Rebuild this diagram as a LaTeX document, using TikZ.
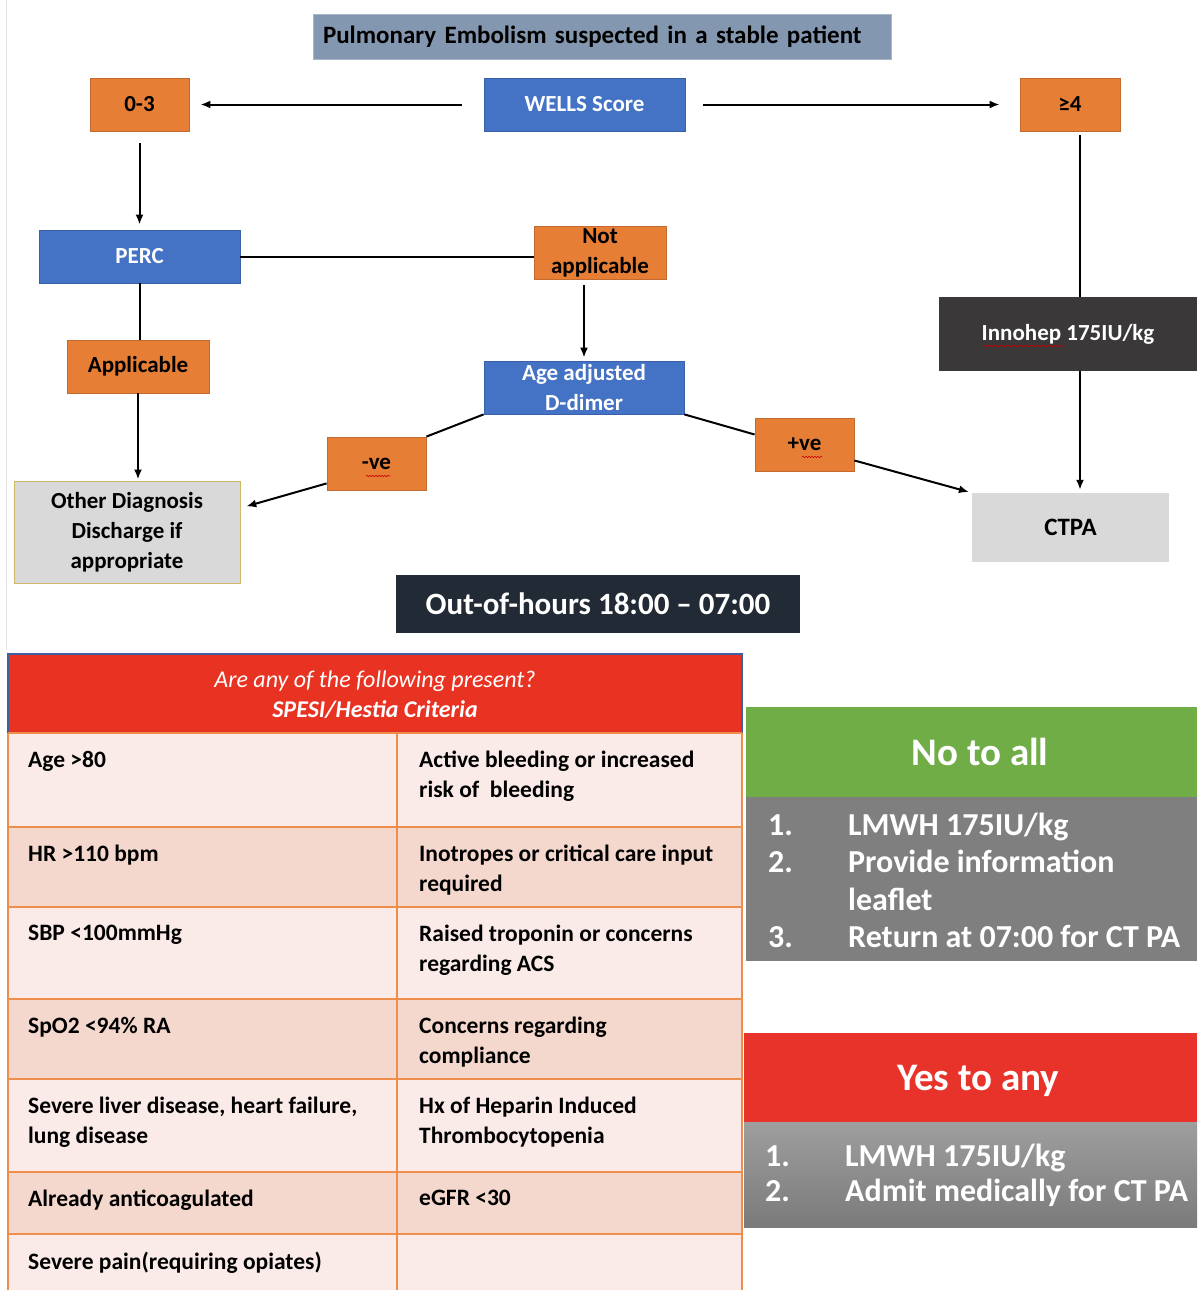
\documentclass[tikz,border=0pt]{standalone}
\usepackage{fontspec}
\setmainfont{Carlito}
\usetikzlibrary{arrows.meta,decorations.pathmorphing}
\definecolor{TitleBlue}{HTML}{8497B0}
\definecolor{BoxBlue}{HTML}{4472C4}
\definecolor{BoxOrange}{HTML}{E67E36}
\definecolor{BoxGrey}{HTML}{D9D9D9}
\definecolor{BoxGold}{HTML}{CDB86A}
\definecolor{DarkBox}{HTML}{3A3838}
\definecolor{NavyBox}{HTML}{222A35}
\definecolor{HeadRed}{HTML}{E83323}
\definecolor{HeadBorder}{HTML}{3F5FA0}
\definecolor{GridOrange}{HTML}{EE8E4A}
\definecolor{CellLight}{HTML}{FAEBE8}
\definecolor{CellDark}{HTML}{F4D8CD}
\definecolor{PanelGreen}{HTML}{70AD47}
\definecolor{PanelGrey}{HTML}{7F7F7F}
\definecolor{PanelRed}{HTML}{E8332A}

\tikzset{
  boxfont/.style={font=\bfseries\fontsize{23}{30}\selectfont},
  orangebox/.style={boxfont, fill=BoxOrange, draw=BoxOrange!85!black, line width=0.8pt, text=black, align=center, inner sep=0pt},
  bluebox/.style={boxfont, fill=BoxBlue, draw=BoxBlue!85!black, line width=0.8pt, text=white, align=center, inner sep=0pt},
  greybox/.style={boxfont, fill=BoxGrey, text=black, align=center, inner sep=0pt},
  link/.style={line width=2pt, black},
  arrow/.style={link, ->},
  grid/.style={GridOrange, line width=2.2pt},
  celltext/.style={anchor=north west, inner sep=0pt, align=left, font=\bfseries\fontsize{23.5}{30}\selectfont},
  paneltitle/.style={anchor=base, text=white, inner sep=0pt, font=\bfseries\fontsize{39}{44}\selectfont},
  listtext/.style={anchor=base west, text=white, inner sep=0pt, font=\bfseries\fontsize{32}{37.5}\selectfont},
  spell/.style={red!80!black, line width=0.6pt, decorate, decoration={snake, amplitude=0.7pt, segment length=3pt}}
}

\begin{document}
\begin{tikzpicture}[x=1pt, y=-1pt, >={Latex[length=10pt,width=8pt]}]
  \useasboundingbox (0,0) rectangle (1197,1290);
  \draw[black!10, line width=1pt] (6,0) -- (6,650);

  % flowchart
  \node[fill=TitleBlue, draw=TitleBlue!70!white, minimum width=578pt, minimum height=45pt, text width=558pt, align=left, inner sep=0pt, font=\bfseries\fontsize{25}{28}\selectfont] (title) at (602,36.5) {Pulmonary Embolism suspected in a stable patient};
  \node[bluebox, minimum width=201pt, minimum height=53pt] (wells) at (584.5,104.5) {WELLS Score};
  \node[orangebox, minimum width=99pt, minimum height=53pt] (low) at (139.5,104.5) {0-3};
  \node[orangebox, minimum width=100pt, minimum height=53pt] (high) at (1070,104.5) {≥4};
  \node[bluebox, minimum width=201pt, minimum height=53pt] (perc) at (139.5,256.5) {PERC};
  \node[orangebox, minimum width=132pt, minimum height=53pt] (notapp) at (600,252.5) {Not\\applicable};
  \node[orangebox, minimum width=142pt, minimum height=53pt] (appl) at (138,366.5) {Applicable};
  \node[bluebox, minimum width=200pt, minimum height=53pt] (ddimer) at (584,387.5) {Age adjusted\\D-dimer};
  \node[greybox, draw=BoxGold, line width=1pt, minimum width=226pt, minimum height=102pt] (other) at (127,532) {Other Diagnosis\\Discharge if\\appropriate};
  \node[orangebox, minimum width=99pt, minimum height=53pt] (neg) at (376.5,463.5) {-ve};
  \node[orangebox, minimum width=99pt, minimum height=53pt] (pos) at (804.5,444.5) {+ve};
  \node[boxfont, fill=DarkBox, text=white, minimum width=258pt, minimum height=74pt, inner sep=0pt] (innohep) at (1068,334) {Innohep 175IU/kg};
  \node[greybox, minimum width=197pt, minimum height=69pt, font=\bfseries\fontsize{25}{30}\selectfont] (ctpa) at (1070.5,527.5) {CTPA};
  \node[fill=NavyBox, text=white, minimum width=404pt, minimum height=58pt, inner sep=0pt, font=\bfseries\fontsize{31}{36}\selectfont] (ooh) at (598,604) {Out-of-hours 18:00 – 07:00};

  \draw[spell] (984,346) -- (1063,346);
  \draw[spell] (366,476) -- (390,476);
  \draw[spell] (802,457) -- (822,457);

  \draw[arrow, shorten <=22pt, shorten >=11pt] (wells.west) -- (low.east);
  \draw[arrow, shorten <=18pt, shorten >=20pt] (wells.east) -- (high.west);
  \draw[arrow, shorten <=12pt, shorten >=5pt] (low.south) -- (perc.north);
  \draw[link] (perc.east) -- (perc.east -| notapp.west);
  \draw[arrow, shorten <=6pt, shorten >=3pt] (notapp.south -| ddimer.north) -- (ddimer.north);
  \draw[link] (perc.south) -- (perc.south |- appl.north);
  \draw[arrow, shorten >=1pt] (appl.south) -- (appl.south |- other.north);
  \draw[link] (ddimer.south west) -- (neg.north east);
  \draw[arrow, shorten >=6pt] ([yshift=7pt]neg.south west) -- ([yshift=24pt]other.east);
  \draw[link] (ddimer.south east) -- ([yshift=10pt]pos.west);
  \draw[arrow, shorten >=3pt] ([yshift=-16pt]pos.east) -- (ctpa.north west);
  \draw[link] ([xshift=10pt,yshift=-4pt]high.south) -- ([xshift=10pt]high.south |- innohep.north);
  \draw[arrow, shorten >=3pt] ([xshift=12pt]innohep.south) -- ([xshift=12pt]innohep.south |- ctpa.north);

  % criteria table
  \filldraw[fill=HeadRed, draw=HeadBorder, line width=1.5pt] (8,733) -- (8,654) -- (742,654) -- (742,733);
  \node[text=white, align=center, inner sep=0pt, font=\fontsize{24}{30}\selectfont\itshape] (crit) at (375,695) {Are any of the following present?\\\bfseries SPESI/Hestia Criteria};
  \fill[CellLight] (8,733) rectangle (742,827);
  \fill[CellDark] (8,827) rectangle (742,907);
  \fill[CellLight] (8,907) rectangle (742,999);
  \fill[CellDark] (8,999) rectangle (742,1079);
  \fill[CellLight] (8,1079) rectangle (742,1172);
  \fill[CellDark] (8,1172) rectangle (742,1234);
  \fill[CellLight] (8,1234) rectangle (742,1290);
  \draw[grid] (8,733) -- (8,1290) (397,733) -- (397,1290) (742,733) -- (742,1290)
    (8,733) -- (742,733) (8,827) -- (742,827) (8,907) -- (742,907) (8,999) -- (742,999)
    (8,1079) -- (742,1079) (8,1172) -- (742,1172) (8,1234) -- (742,1234);

  \node[celltext] (age) at (28,751) {Age >80};
  \node[celltext] (bleed) at (419,751) {Active bleeding or increased\\risk of~~bleeding};
  \node[celltext] (hr) at (28,845) {HR >110 bpm};
  \node[celltext] (inotropes) at (419,845) {Inotropes or critical care input\\required};
  \node[celltext] (sbp) at (28,925) {SBP <100mmHg};
  \node[celltext] (troponin) at (419,925) {Raised troponin or concerns\\regarding ACS};
  \node[celltext] (spo) at (28,1017) {SpO2 <94\% RA};
  \node[celltext] (compliance) at (419,1017) {Concerns regarding\\compliance};
  \node[celltext] (liver) at (28,1097) {Severe liver disease, heart failure,\\lung disease};
  \node[celltext] (hit) at (419,1097) {Hx of Heparin Induced\\Thrombocytopenia};
  \node[celltext] (anticoag) at (28,1190) {Already anticoagulated};
  \node[celltext] (egfr) at (419,1190) {eGFR <30};
  \node[celltext] (pain) at (28,1252) {Severe pain(requiring opiates)};

  % outcome panels
  \fill[PanelGreen] (746,707) rectangle (1197,797);
  \fill[PanelGrey] (746,797) rectangle (1197,961);
  \node[paneltitle] (noall) at (980,765) {No to all};
  \node[listtext] (noitems) at (768,835) {\begin{tabular}[t]{@{}p{80pt}@{}l@{}}
    1.& LMWH 175IU/kg\\
    2.& Provide information\\
      & leaflet\\
    3.& Return at 07:00 for CT PA
  \end{tabular}};
  \fill[PanelRed] (744,1033) rectangle (1197,1122);
  \shade[top color=black!38, bottom color=black!52] (744,1122) rectangle (1197,1227);
  \node[paneltitle] (yesany) at (978,1090) {Yes to any};
  \node[listtext, font=\bfseries\fontsize{32}{35}\selectfont] (yesitems) at (765,1166) {\begin{tabular}[t]{@{}p{80pt}@{}l@{}}
    1.& LMWH 175IU/kg\\
    2.& Admit medically for CT PA
  \end{tabular}};
\end{tikzpicture}
\end{document}
